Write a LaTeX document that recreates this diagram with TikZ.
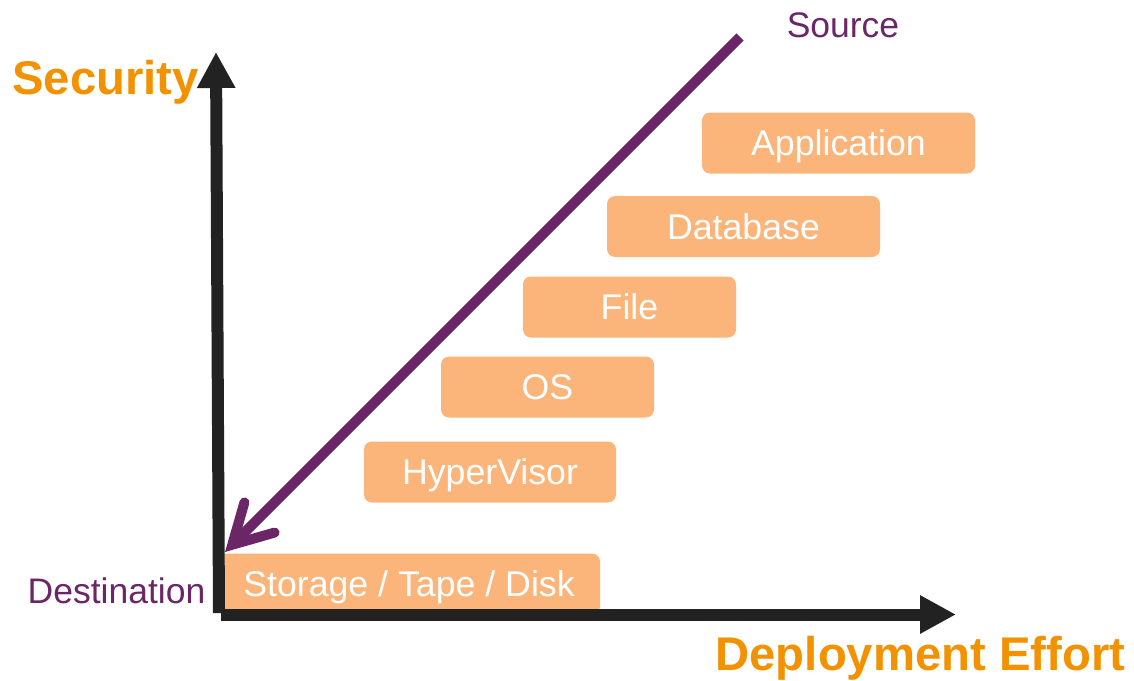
\documentclass[tikz,border=0pt]{standalone}
\usepackage{fontspec}
\setmainfont{Liberation Sans}
\usetikzlibrary{arrows.meta,calc}
\definecolor{axisgray}{HTML}{222222}
\definecolor{titleorange}{HTML}{F39200}
\definecolor{flowpurple}{HTML}{6B2668}
\definecolor{layerfill}{HTML}{FBB57B}
\begin{document}
\begin{tikzpicture}[x=1pt,y=-1pt,
  axis/.style={draw=axisgray,line width=12pt,-{Triangle[length=36pt,width=36pt]}},
  layer/.style={rectangle,rounded corners=8pt,fill=layerfill,text=white,inner sep=0pt,
    minimum height=61pt,text height=25.4pt,text depth=0pt,font=\fontsize{35.7}{40}\selectfont},
  title/.style={text=titleorange,inner sep=0pt,anchor=base,font=\fontsize{47.3}{52}\selectfont\bfseries},
  tag/.style={text=flowpurple,inner sep=0pt,anchor=base,font=\fontsize{35.5}{40}\selectfont},
  flow/.style={draw=flowpurple,line width=10pt}]
  \useasboundingbox (0,0) rectangle (1134,680);
  % layers
  \node[layer,minimum width=382pt](storage) at (409,584) {Storage / Tape / Disk};
  \node[layer,minimum width=252pt](hypervisor) at (490,472) {HyperVisor};
  \node[layer,minimum width=213pt](os) at (547.5,387) {OS};
  \node[layer,minimum width=213pt](file) at (629.5,307) {File};
  \node[layer,minimum width=273pt](database) at (743.5,226.5) {Database};
  \node[layer,minimum width=273pt](application) at (838.5,143) {Application};
  % axes
  \coordinate(ybot) at (219,613);
  \coordinate(ytop) at (216,52);
  \coordinate(xbot) at (221,614.5);
  \coordinate(xtip) at (956,614.5);
  \draw[axis] (ybot) -- (ytop);
  \draw[axis] (xbot) -- (xtip);
  \node[title](security) at (105.5,94) {Security};
  \node[title](effort) at (920.5,670) {Deployment Effort};
  % source to destination
  \node[tag](source) at (843,37) {Source};
  \node[tag](destination) at (116.5,603) {Destination};
  \coordinate(src) at (740,37);
  \coordinate(dst) at (232.3,544.7);
  \draw[flow] (src) -- (dst);
  \draw[flow,line cap=round,line join=miter] ($(dst)+(-74:44)$) -- (dst) -- ($(dst)+(-16:44)$);
\end{tikzpicture}
\end{document}
